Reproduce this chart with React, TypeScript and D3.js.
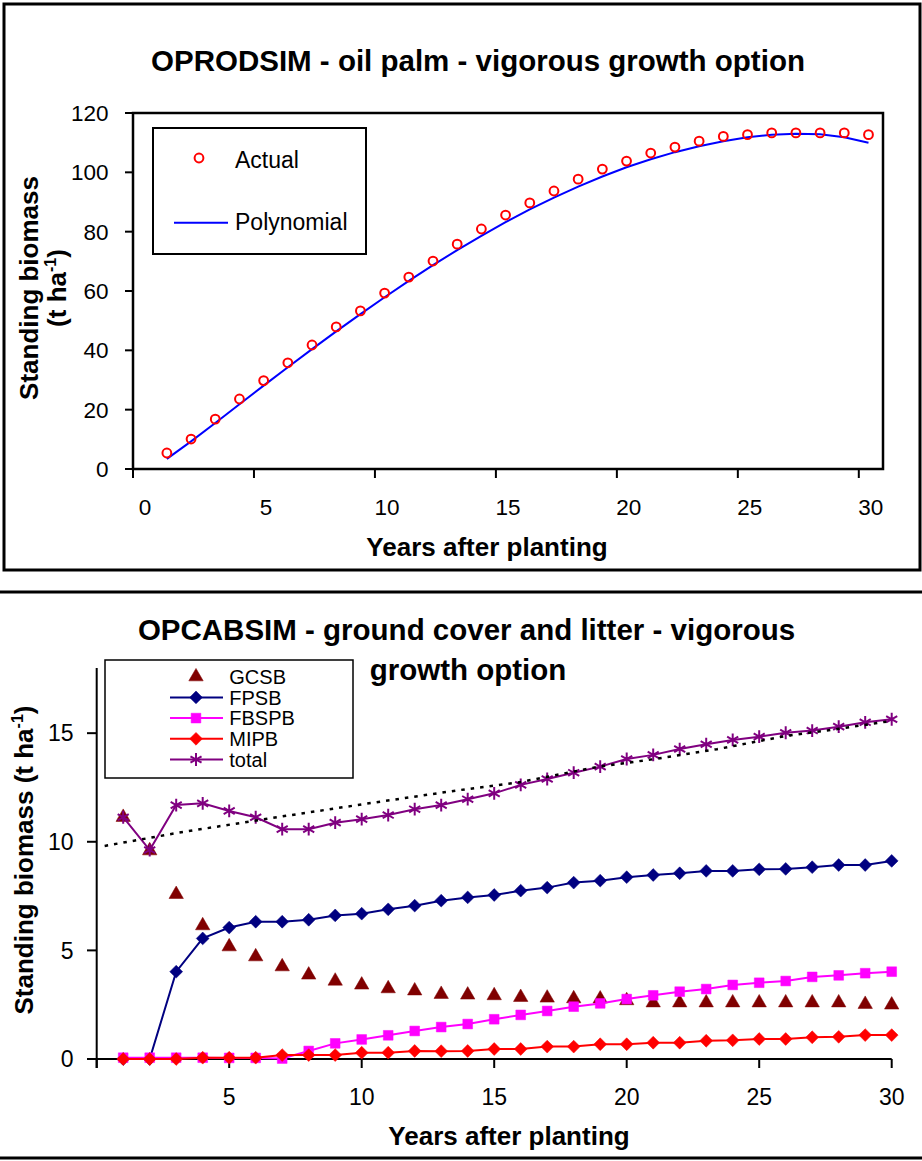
import React from "react";
import * as d3 from "d3";

// ---- data ----
const years = [1, 2, 3, 4, 5, 6, 7, 8, 9, 10, 11, 12, 13, 14, 15, 16, 17, 18, 19, 20, 21, 22, 23, 24, 25, 26, 27, 28, 29, 30];

// top chart: standing biomass of oil palm (t/ha)
const actual = [5.4, 10.1, 16.8, 23.6, 29.8, 35.8, 41.8, 47.9, 53.3, 59.3, 64.7, 70.1, 75.8, 80.9, 85.6, 89.7, 93.7, 97.7, 101.1, 103.8, 106.5, 108.5, 110.5, 112.1, 112.7, 113.3, 113.3, 113.3, 113.3, 112.7];
const polynomial = [3.4, 9.3, 15.5, 21.8, 28.1, 34.3, 40.4, 46.4, 52.2, 57.9, 63.4, 68.7, 73.8, 78.6, 83.2, 87.5, 91.5, 95.2, 98.6, 101.7, 104.4, 106.8, 108.8, 110.5, 111.8, 112.7, 113.0, 112.8, 111.8, 110.0];
const topXTicks = [0, 5, 10, 15, 20, 25, 30];
const topYTicks = [0, 20, 40, 60, 80, 100, 120];

// bottom chart: ground cover and litter (t/ha)
const gcsb = [11.13, 9.59, 7.58, 6.14, 5.17, 4.71, 4.25, 3.87, 3.59, 3.41, 3.24, 3.14, 2.98, 2.95, 2.92, 2.84, 2.81, 2.78, 2.77, 2.69, 2.59, 2.59, 2.59, 2.59, 2.59, 2.59, 2.59, 2.59, 2.52, 2.49];
const fpsb = [0, 0, 4.02, 5.55, 6.05, 6.32, 6.32, 6.41, 6.61, 6.69, 6.89, 7.06, 7.29, 7.44, 7.55, 7.75, 7.89, 8.12, 8.21, 8.37, 8.47, 8.55, 8.66, 8.66, 8.73, 8.75, 8.83, 8.93, 8.93, 9.12];
const fbspb = [0.06, 0.06, 0.06, 0.06, 0.05, 0.05, 0.02, 0.37, 0.72, 0.9, 1.09, 1.29, 1.47, 1.61, 1.83, 2.03, 2.21, 2.41, 2.56, 2.76, 2.93, 3.1, 3.22, 3.41, 3.51, 3.59, 3.78, 3.85, 3.95, 4.02];
const mipb = [0, 0, 0, 0.06, 0.06, 0.06, 0.18, 0.18, 0.18, 0.29, 0.29, 0.37, 0.36, 0.37, 0.46, 0.46, 0.57, 0.57, 0.68, 0.68, 0.75, 0.75, 0.84, 0.86, 0.92, 0.92, 1.0, 1.02, 1.1, 1.1];
const total = [11.13, 9.62, 11.69, 11.77, 11.42, 11.13, 10.58, 10.58, 10.88, 11.04, 11.23, 11.5, 11.69, 11.96, 12.23, 12.62, 12.89, 13.18, 13.46, 13.81, 14.0, 14.27, 14.49, 14.69, 14.84, 15.02, 15.12, 15.3, 15.5, 15.64];
const trendX = [0.3, 3.1, 6.8, 10.1, 13.7, 16, 18.9, 21, 23.4, 26, 28, 29.8];
const trendY = [9.81, 10.42, 11.13, 11.74, 12.38, 12.75, 13.45, 13.8, 14.26, 14.87, 15.2, 15.53];
const botXTicks = [0, 5, 10, 15, 20, 25, 30];
const botYTicks = [0, 5, 10, 15];

const FONT = "'Liberation Sans', Arial, Helvetica, sans-serif";

const series = [
  { name: "GCSB", values: gcsb, color: "#800000", symbol: d3.symbolTriangle, size: 90, line: false, stroke: false },
  { name: "FPSB", values: fpsb, color: "#000080", symbol: d3.symbolDiamond2, size: 105, line: true, stroke: false },
  { name: "FBSPB", values: fbspb, color: "#FF00FF", symbol: d3.symbolSquare, size: 95, line: true, stroke: false },
  { name: "MIPB", values: mipb, color: "#FF0000", symbol: d3.symbolDiamond2, size: 105, line: true, stroke: false },
  { name: "total", values: total, color: "#800080", symbol: d3.symbolAsterisk, size: 115, line: true, stroke: true },
];

function TopChart() {
  const x = d3.scaleLinear().domain([0, 31]).range([133, 883]);
  const y = d3.scaleLinear().domain([0, 120]).range([469, 113]);
  // points sit a little right of the whole-year ticks in the original
  const shift = 0.4;
  const line = d3
    .line<number>()
    .x((_, i) => x(years[i] + shift))
    .y((d) => y(d));

  return (
    <g fontFamily={FONT}>
      <rect x={4} y={4} width={916} height={566} fill="white" stroke="black" strokeWidth={3} />
      <text x={478} y={71} textAnchor="middle" fontWeight="bold" fontSize={29.5}>
        OPRODSIM - oil palm - vigorous growth option
      </text>

      <rect x={133} y={113} width={750} height={356} fill="none" stroke="black" strokeWidth={2.5} />

      {topYTicks.map((t) => (
        <g key={t}>
          <line x1={125} x2={133} y1={y(t)} y2={y(t)} stroke="black" strokeWidth={2} />
          <text x={108.5} y={y(t) + 8} textAnchor="end" fontSize={22.5}>
            {t}
          </text>
        </g>
      ))}
      {topXTicks.map((t) => (
        <g key={t}>
          <line x1={x(t)} x2={x(t)} y1={469} y2={478} stroke="black" strokeWidth={2} />
          <text x={x(t) + 12} y={515} textAnchor="middle" fontSize={22.5}>
            {t}
          </text>
        </g>
      ))}

      <path d={line(polynomial) || ""} fill="none" stroke="#0000FF" strokeWidth={2} />
      {actual.map((v, i) => (
        <circle key={i} cx={x(years[i] + shift)} cy={y(v)} r={4.4} fill="none" stroke="#FF0000" strokeWidth={2} />
      ))}

      <text x={487} y={556} textAnchor="middle" fontWeight="bold" fontSize={26}>
        Years after planting
      </text>
      <text transform="translate(38,288) rotate(-90)" textAnchor="middle" fontWeight="bold" fontSize={26}>
        Standing biomass
      </text>
      <text transform="translate(66,288) rotate(-90)" textAnchor="middle" fontWeight="bold" fontSize={26}>
        (t ha
        <tspan dy={-10} fontSize={16}>-1</tspan>
        <tspan dy={10}>)</tspan>
      </text>

      {/* legend */}
      <rect x={153} y={128} width={213} height={126} fill="white" stroke="black" strokeWidth={2} />
      <circle cx={199} cy={158} r={4.4} fill="none" stroke="#FF0000" strokeWidth={2} />
      <text x={235} y={168} fontSize={23}>Actual</text>
      <line x1={174} x2={228} y1={222.7} y2={222.7} stroke="#0000FF" strokeWidth={2} />
      <text x={235} y={230} fontSize={23}>Polynomial</text>
    </g>
  );
}

function BottomChart() {
  const x = d3.scaleLinear().domain([0, 30]).range([96.7, 891.7]);
  const y = d3.scaleLinear().domain([0, 18]).range([1059, 668]);
  const line = d3
    .line<number>()
    .x((_, i) => x(years[i]))
    .y((d) => y(d));
  const trend = d3
    .line<number>()
    .x((_, i) => x(trendX[i]))
    .y((d) => y(d));
  const sym = (s: any, size: number) => d3.symbol().type(s).size(size)() || "";

  return (
    <g fontFamily={FONT}>
      <line x1={0} x2={922} y1={592} y2={592} stroke="black" strokeWidth={3} />
      <line x1={0} x2={922} y1={1158} y2={1158} stroke="black" strokeWidth={3} />

      <text x={466.5} y={640} textAnchor="middle" fontWeight="bold" fontSize={29.5}>
        OPCABSIM - ground cover and litter - vigorous
      </text>
      <text x={468} y={680} textAnchor="middle" fontWeight="bold" fontSize={29.5}>
        growth option
      </text>

      {/* axes */}
      <line x1={x(0)} x2={x(0)} y1={y(18)} y2={1068} stroke="black" strokeWidth={2} />
      <line x1={x(0)} x2={x(30)} y1={y(0)} y2={y(0)} stroke="black" strokeWidth={2} />
      {botYTicks.map((t) => (
        <g key={t}>
          <line x1={87} x2={x(0)} y1={y(t)} y2={y(t)} stroke="black" strokeWidth={2} />
          <text x={73.5} y={y(t) + 8.2} textAnchor="end" fontSize={23}>
            {t}
          </text>
        </g>
      ))}
      {botXTicks.map((t) => (
        <g key={t}>
          <line x1={x(t)} x2={x(t)} y1={y(0)} y2={1068} stroke="black" strokeWidth={2} />
          {t > 0 && (
            <text x={x(t)} y={1105} textAnchor="middle" fontSize={23}>
              {t}
            </text>
          )}
        </g>
      ))}

      {/* series */}
      {series.map((s) => (
        <g key={s.name}>
          {s.line && <path d={line(s.values) || ""} fill="none" stroke={s.color} strokeWidth={2} />}
          {s.values.map((v, i) => (
            <path
              key={i}
              transform={`translate(${x(years[i])},${y(v)})`}
              d={sym(s.symbol, s.size)}
              fill={s.stroke ? "none" : s.color}
              stroke={s.color}
              strokeWidth={s.stroke ? 2 : 0.5}
            />
          ))}
        </g>
      ))}
      <path d={trend(trendY) || ""} fill="none" stroke="black" strokeWidth={2.5} strokeDasharray="3.5,6" />

      <text x={509} y={1145} textAnchor="middle" fontWeight="bold" fontSize={26}>
        Years after planting
      </text>
      <text transform="translate(33,860) rotate(-90)" textAnchor="middle" fontWeight="bold" fontSize={26}>
        Standing biomass (t ha
        <tspan dy={-10} fontSize={16}>-1</tspan>
        <tspan dy={10}>)</tspan>
      </text>

      {/* legend */}
      <rect x={105} y={660} width={248} height={118} fill="white" stroke="black" strokeWidth={1.5} />
      {series.map((s, i) => {
        const cy = 676.7 + i * 20.7;
        return (
          <g key={s.name}>
            {s.line && <line x1={170} x2={223} y1={cy} y2={cy} stroke={s.color} strokeWidth={2} />}
            <path
              transform={`translate(196,${cy})`}
              d={sym(s.symbol, s.size)}
              fill={s.stroke ? "none" : s.color}
              stroke={s.color}
              strokeWidth={s.stroke ? 2 : 0.5}
            />
            <text x={229.3} y={cy + 7.3} fontSize={20}>
              {s.name}
            </text>
          </g>
        );
      })}
    </g>
  );
}

export default function App() {
  return (
    <div style={{ position: "absolute", left: 0, top: 0 }}>
      <svg width={922} height={1161} style={{ display: "block", background: "white" }}>
        <TopChart />
        <BottomChart />
      </svg>
    </div>
  );
}
